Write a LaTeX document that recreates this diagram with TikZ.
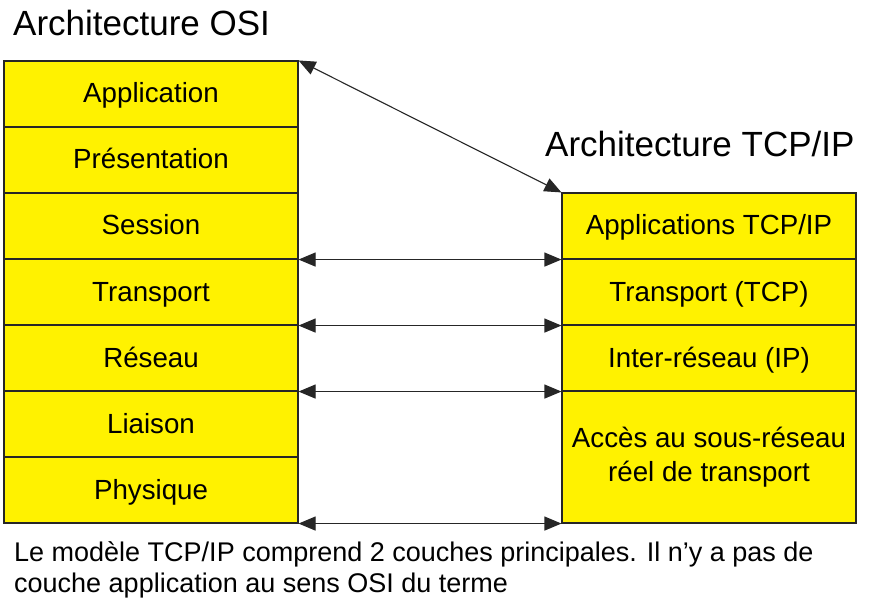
\documentclass[tikz,border=0pt]{standalone}
\usepackage{fontspec}
\setmainfont{Liberation Sans}
\usetikzlibrary{arrows.meta}
\begin{document}
\begin{tikzpicture}[x=1pt, y=1pt,
    layer/.style={rectangle, draw=black!85, fill=yellow, line width=1.1pt, minimum width=294pt, minimum height=66pt, align=center, inner sep=0pt, text height=22pt, text depth=4pt, font=\fontsize{27.7}{34}\selectfont},
    arrow/.style={<->, >={Triangle[length=17pt,width=14pt]}, line width=1.1pt, black!85},
    title/.style={anchor=base west, inner sep=0pt, font=\fontsize{35}{40}\selectfont},
    note/.style={anchor=north west, inner sep=0pt, align=left, font=\fontsize{27}{31}\selectfont},
]
\useasboundingbox[fill=white] (0,0) rectangle (872,606);

% Titles
\node[title] (osi) at (13,570) {Architecture OSI};
\node[title] (tcpip) at (545,449) {Architecture TCP/IP};

% OSI layers
\node[layer] (app) at (151,512) {Application};
\node[layer] (pres) at (151,446) {Présentation};
\node[layer] (ses) at (151,380) {Session};
\node[layer] (trans) at (151,314) {Transport};
\node[layer] (res) at (151,248) {Réseau};
\node[layer] (liai) at (151,182) {Liaison};
\node[layer] (phys) at (151,116) {Physique};

% TCP/IP layers
\node[layer] (tapp) at (709,380) {Applications TCP/IP};
\node[layer] (ttrans) at (709,314) {Transport (TCP)};
\node[layer] (tinter) at (709,248) {Inter-réseau (IP)};
\node[layer, text height=, text depth=, minimum height=132pt] (tacces) at (709,149) {Accès au sous-réseau\\réel de transport};

% Correspondences
\draw[arrow] (app.north east) -- (tapp.north west);
\draw[arrow] (ses.south east) -- (tapp.south west);
\draw[arrow] (trans.south east) -- (ttrans.south west);
\draw[arrow] (res.south east) -- (tinter.south west);
\draw[arrow] (phys.south east) -- (tacces.south west);

% Comment
\node[note] (remark) at (14,65) {Le modèle TCP/IP comprend 2 couches principales. Il n'y a pas de\\couche application au sens OSI du terme};
\end{tikzpicture}
\end{document}
